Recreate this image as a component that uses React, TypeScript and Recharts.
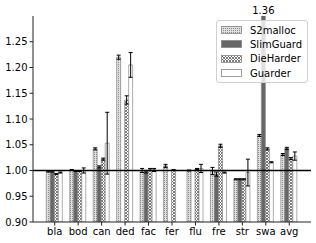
import React from 'react'
import {
  BarChart,
  Bar,
  XAxis,
  YAxis,
  ErrorBar,
  ReferenceLine,
  Legend,
  LabelList,
} from 'recharts'

const categories = ['bla', 'bod', 'can', 'ded', 'fac', 'fer', 'flu', 'fre', 'str', 'swa', 'avg']
const s2malloc = [0.998, 1.001, 1.042, 1.22, 1.0, 1.009, 1.0, 0.999, 0.983, 1.068, 1.031]
const s2mallocErr = [0.001, 0.001, 0.002, 0.004, 0.004, 0.003, 0.001, 0.007, 0.001, 0.002, 0.002]
const slimguard = [0.998, 0.999, 1.007, null, 0.997, null, null, 0.993, 0.983, 1.36, 1.043]
const slimguardErr = [0.001, 0.001, 0.002, null, 0.002, null, null, 0.004, 0.001, null, 0.002]
const dieharder = [0.993, 0.999, 1.022, 1.137, 1.002, 1.001, 1.003, 1.048, 0.983, 1.042, 1.023]
const dieharderErr = [0.001, 0.001, 0.002, 0.008, 0.002, 0.001, 0.001, 0.003, 0.001, 0.002, 0.002]
const guarder = [0.996, 1.0, 1.053, 1.205, 1.001, null, 1.004, 0.996, 0.996, 1.016, 1.028]
const guarderErr = [0.001, 0.005, 0.06, 0.024, 0.003, null, 0.008, 0.001, 0.026, 0.001, 0.008]
const yTicks = [0.9, 0.95, 1.0, 1.05, 1.1, 1.15, 1.2, 1.25]

const data = categories.map((name, i) => ({
  name,
  s2malloc: s2malloc[i],
  s2mallocErr: s2mallocErr[i],
  slimguard: slimguard[i],
  slimguardErr: slimguardErr[i],
  dieharder: dieharder[i],
  dieharderErr: dieharderErr[i],
  guarder: guarder[i],
  guarderErr: guarderErr[i],
}))

const font = 'DejaVu Sans'
const edge = '#888'

const series = [
  {key: 's2malloc', name: 'S2malloc', fill: 'url(#dots)'},
  {key: 'slimguard', name: 'SlimGuard', fill: '#666'},
  {key: 'dieharder', name: 'DieHarder', fill: 'url(#cross)'},
  {key: 'guarder', name: 'Guarder', fill: '#fff'},
]

const renderLegend = () => (
  <div
    style={{
      border: '1px solid #d0d0d0',
      borderRadius: 3,
      background: 'rgba(255,255,255,0.8)',
      padding: '2px 0 2px 4px',
      fontFamily: font,
      fontSize: 10,
      color: '#000',
      boxSizing: 'border-box',
    }}
  >
    {series.map(s => (
      <div key={s.key} style={{display: 'flex', alignItems: 'center', height: 14.3}}>
        <svg width={21} height={8} style={{display: 'block'}}>
          <rect x={0.5} y={0.5} width={20} height={7} fill={s.fill} stroke={edge} strokeWidth={0.8}/>
        </svg>
        <span style={{marginLeft: 8}}>{s.name}</span>
      </div>
    ))}
  </div>
)

const overflowLabel = (props: any) => {
  const {x, width, value} = props
  if (value == null || value <= 1.3) return null
  return (
    <text x={x + width / 2} y={13.5} textAnchor='middle' fontSize={10} fontFamily={font} fill='#000'>
      {Number(value).toFixed(2)}
    </text>
  )
}

export default function App() {
  return (
    <div style={{position: 'absolute', left: 0, top: 0, width: 316, height: 243, background: '#fff'}}>
      <BarChart
        width={316}
        height={243}
        data={data}
        margin={{top: 16, right: 5, bottom: 0, left: 0}}
        barCategoryGap='14%'
        barGap={0}
      >
        <defs>
          <pattern id='dots' width={2} height={2} patternUnits='userSpaceOnUse'>
            <rect width={2} height={2} fill='#e0e0e0'/>
            <rect width={1} height={1} fill='#8a8a8a'/>
          </pattern>
          <pattern id='cross' width={3} height={3} patternUnits='userSpaceOnUse'>
            <rect width={3} height={3} fill='#fff'/>
            <path d='M0,0 L3,3 M3,0 L0,3' stroke='#6e6e6e' strokeWidth={0.9}/>
          </pattern>
        </defs>
        <XAxis
          dataKey='name'
          height={21}
          padding={{left: 10, right: 10}}
          tickSize={3.5}
          tickMargin={2}
          tick={{fontSize: 10, fontFamily: font, fill: '#000'}}
          stroke='#222'
          interval={0}
        />
        <XAxis xAxisId='top' dataKey='name' orientation='top' height={0} tick={false} tickLine={false}
               stroke='#a0a0a0' strokeWidth={2}/>
        <YAxis
          width={33}
          domain={[0.9, 1.3]}
          ticks={yTicks}
          allowDataOverflow
          tickSize={3.5}
          tickMargin={2}
          tickFormatter={(v: number) => v.toFixed(2)}
          tick={{fontSize: 10, fontFamily: font, fill: '#000'}}
          stroke='#222'
        />
        <YAxis yAxisId='right' orientation='right' width={0} tick={false} tickLine={false} stroke='#444'/>
        <ReferenceLine y={1} stroke='#000' strokeWidth={1.5}/>
        {series.map(s => (
          <Bar key={s.key} dataKey={s.key} name={s.name} fill={s.fill} stroke={edge} strokeWidth={0.7}
               isAnimationActive={false}>
            <ErrorBar dataKey={s.key + 'Err'} width={2} stroke='#000' strokeWidth={1}/>
            {s.key === 'slimguard' ? <LabelList dataKey='slimguard' content={overflowLabel}/> : null}
          </Bar>
        ))}
        <Legend
          content={renderLegend}
          layout='horizontal'
          verticalAlign='middle'
          align='center'
          wrapperStyle={{position: 'absolute', left: 216, top: 20, width: 92, height: 'auto'}}
        />
      </BarChart>
    </div>
  )
}
